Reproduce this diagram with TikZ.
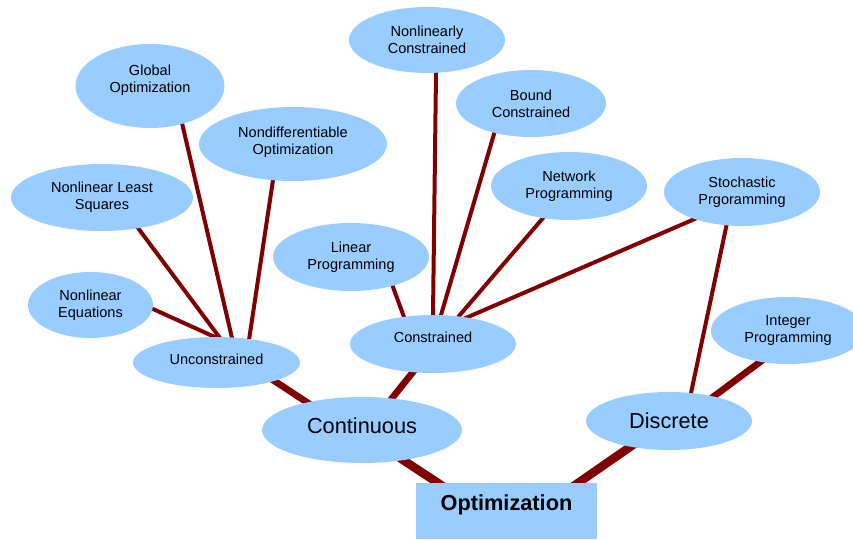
\documentclass[tikz,border=0pt]{standalone}
\usepackage{fontspec}
\setmainfont{Liberation Sans}
\usetikzlibrary{shapes.geometric,calc,backgrounds}
\definecolor{egkek}{HTML}{99CCFF}
\definecolor{agbarna}{HTML}{800000}
\tikzset{
  ell/.style={ellipse, fill=egkek, inner sep=0pt, align=center, font=\fontsize{10.9}{12.75}\selectfont},
  sz/.style 2 args={minimum width=#1*0.75pt, minimum height=#2*0.75pt},
  fel/.style={text depth=#1},
  nagy/.style={font=\fontsize{16.3}{19}\selectfont},
  gyoker/.style={rectangle, fill=egkek, inner sep=0pt, sz={181}{56}, text depth=12.4pt, font=\bfseries\fontsize{16.3}{19}\selectfont},
  ag/.style={draw=agbarna, line width=3pt, shorten <=-5pt, shorten >=-5pt},
  vastag/.style={ag, line width=5pt},
  vastagabb/.style={ag, line width=6.4pt}
}
\begin{document}
\begin{tikzpicture}[x=0.75pt, y=-0.75pt]
    \useasboundingbox (0,0) rectangle (853,539);

    %a gyökér és a két fő ág
    \node[gyoker] (opt) at (506.5,511) {Optimization};
    \node[ell,nagy,sz={200}{66},fel=6pt] (cont) at (362,430) {Continuous};
    \node[ell,nagy,sz={166}{58}] (disc) at (669,421) {Discrete};

    %a középső szint
    \node[ell,sz={167}{51},fel=4.5pt] (unc) at (216.5,362.5) {Unconstrained};
    \node[ell,sz={166}{58},fel=10.5pt] (con) at (433,344) {Constrained};
    \node[ell,sz={154}{67}] (intp) at (788,330.5) {Integer\\Programming};

    %a levelek
    \node[ell,sz={149}{84},fel=10.5pt] (glob) at (150,86) {Global\\Optimization};
    \node[ell,sz={188}{74},fel=5.3pt] (nondiff) at (293,144) {Nondifferentiable\\Optimization};
    \node[ell,sz={182}{67}] (nlls) at (102,197.5) {Nonlinear Least\\Squares};
    \node[ell,sz={125}{66}] (nleq) at (90.5,305) {Nonlinear\\Equations};
    \node[ell,sz={156}{66}] (nlc) at (427,40) {Nonlinearly\\Constrained};
    \node[ell,sz={150}{67}] (bound) at (531,103.5) {Bound\\Constrained};
    \node[ell,sz={156}{68}] (netw) at (569,186) {Network\\Programming};
    \node[ell,sz={156}{68}] (stoch) at (742,192) {Stochastic\\Prgoramming};
    \node[ell,sz={156}{68}] (linp) at (351,257) {Linear\\Programming};

    %az ágak a csomópontok mögé kerülnek
    \begin{scope}[on background layer]
        \draw[vastagabb] ($(cont)+(41,30)$) -- ($(opt)+(-68.5,-28)$);
        \draw[vastagabb] ($(disc)+(-39,26)$) -- ($(opt)+(71.5,-28)$);

        \draw[vastag] ($(unc)+(56.5,17.5)$) -- ($(cont)+(-54,-27)$);
        \draw[vastag] ($(con)+(-20,28)$) -- ($(cont)+(31,-33)$);
        \draw[vastag] ($(intp)+(-28,31.5)$) -- ($(disc)+(44,-24)$);

        \draw[ag] ($(glob)+(32,37)$) -- ($(unc)+(15.5,-24.5)$);
        \draw[ag] ($(nondiff)+(-20,36)$) -- ($(unc)+(32.5,-22.5)$);
        \draw[ag] ($(nlls)+(36,30.5)$) -- ($(unc)+(3.5,-24.5)$);
        \draw[ag] ($(nleq)+(62.5,4)$) -- ($(unc)+(0.5,-24.5)$);

        \draw[ag] ($(nlc)+(9,33)$) -- ($(con)+(0,-29)$);
        \draw[ag] ($(bound)+(-37,30.5)$) -- ($(con)+(8,-29)$);
        \draw[ag] ($(netw)+(-26,32)$) -- ($(con)+(26,-28)$);
        \draw[ag] ($(stoch)+(-45,26)$) -- ($(con)+(35,-27)$);
        \draw[ag] ($(linp)+(42,30)$) -- ($(con)+(-29,-27)$);

        \draw[ag] ($(stoch)+(-15,31)$) -- ($(disc)+(22,-28)$);
    \end{scope}
\end{tikzpicture}
\end{document}
